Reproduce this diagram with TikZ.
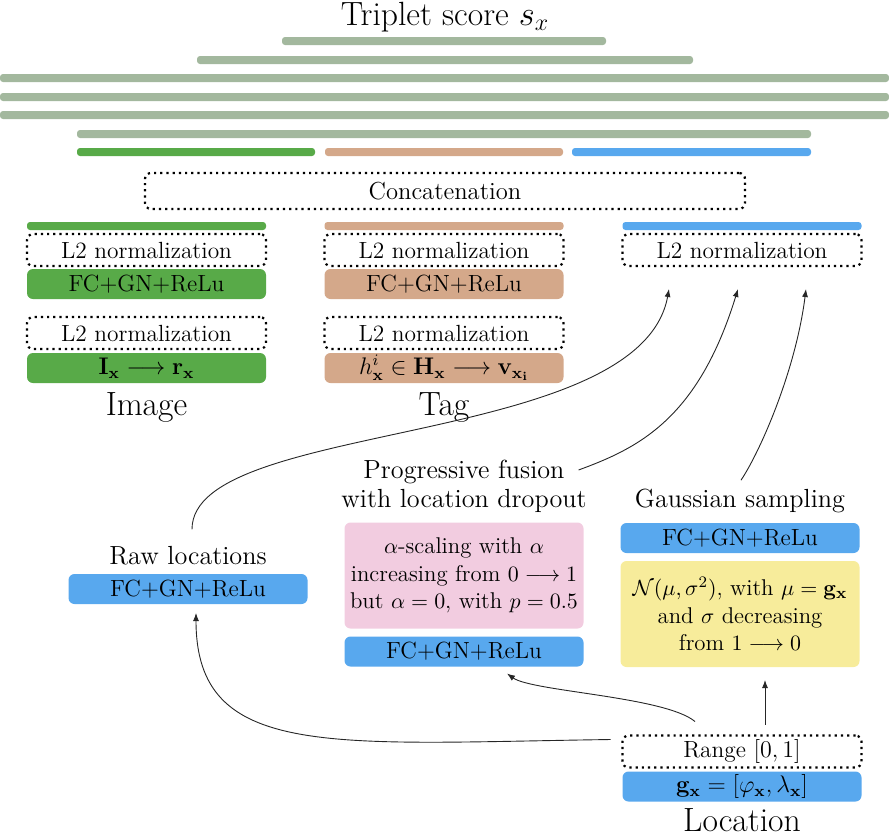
\documentclass[tikz,border=0pt]{standalone}
\usepackage{amsmath,amssymb}
\usepackage{tikz}
\usetikzlibrary{arrows.meta,positioning,calc}
\definecolor{trImg}{HTML}{58AA48}
\definecolor{trTag}{HTML}{D4A88A}
\definecolor{trLoc}{HTML}{58A8EE}
\definecolor{trScore}{HTML}{A3B89E}
\definecolor{trPink}{HTML}{F2CCE0}
\definecolor{trYellow}{HTML}{F7EC9B}
\newcommand{\trBody}{\fontsize{11.7}{13.8}\selectfont}
\newcommand{\trNote}{\fontsize{11.4}{13.8}\selectfont}
\newcommand{\trMid}{\fontsize{13.1}{14.5}\selectfont}
\newcommand{\trBig}{\fontsize{16.8}{19}\selectfont}
\tikzset{
  trbar/.style={fill=trScore,rounded corners=1.5pt,inner sep=0pt,outer sep=0pt,minimum height=4pt},
  trdot/.style={draw=black,dotted,line width=1.1pt,rounded corners=3pt,inner sep=0pt,outer sep=0pt,
                minimum width=119.5pt,minimum height=16pt,font=\trBody},
  trlayer/.style={rounded corners=3pt,inner sep=0pt,outer sep=0pt,minimum width=119.5pt,minimum height=15pt,font=\trBody},
  trimg/.style={trlayer,fill=trImg},
  trtag/.style={trlayer,fill=trTag},
  trloc/.style={trlayer,fill=trLoc},
  trnote/.style={trlayer,align=center,minimum height=53pt,font=\trNote},
  trlbl/.style={inner sep=0pt,outer sep=0pt,font=\trBig},
  trcap/.style={inner sep=0pt,outer sep=0pt,font=\trMid,align=center},
  trflow/.style={-{Latex[length=4pt,width=3pt]},line width=0.45pt,draw=black!85},
}

\begin{document}
\begin{tikzpicture}[x=0.5pt,y=-0.5pt,node distance=2pt]
  \useasboundingbox (0,0) rectangle (889,832);

  % score head
  \node[trlbl,anchor=base] (score) at (445,25) {Triplet score $s_x$};
  \node[trbar,minimum width=162pt] (s1) at (444,41) {};
  \node[trbar,minimum width=248pt] (s2) at (445,60) {};
  \node[trbar,minimum width=444.5pt] (s3) at (444.5,78) {};
  \node[trbar,minimum width=444.5pt] (s4) at (444.5,97) {};
  \node[trbar,minimum width=444.5pt] (s5) at (444.5,115) {};
  \node[trbar,minimum width=367pt] (s6) at (444,134) {};
  \node[trbar,fill=trImg,minimum width=119pt] (hi) at (196,152) {};
  \node[trbar,fill=trTag,minimum width=119pt] (ht) at (444,152) {};
  \node[trbar,fill=trLoc,minimum width=119.5pt] (hl) at (691.5,152) {};
  \node[trdot,minimum width=300pt,minimum height=18pt,font=\fontsize{12.3}{14}\selectfont] (concat) at (445,191) {Concatenation};

  % image branch
  \node[trbar,fill=trImg,minimum width=119.5pt] (ibar) at (146.5,226) {};
  \node[trdot,below=of ibar] (il2a) {L2 normalization};
  \node[trimg,below=1.5pt of il2a] (ifc) {FC+GN+ReLu};
  \node[trdot,below=9pt of ifc] (il2b) {L2 normalization};
  \node[trimg,below=of il2b] (iin) {$\mathbf{I}_\mathbf{x} \longrightarrow \mathbf{r}_\mathbf{x}$};
  \node[trlbl,below=5pt of iin] (ilbl) {Image};

  % tag branch
  \node[trbar,fill=trTag,minimum width=119.5pt] (tbar) at (444,226) {};
  \node[trdot,below=of tbar] (tl2a) {L2 normalization};
  \node[trtag,below=1.5pt of tl2a] (tfc) {FC+GN+ReLu};
  \node[trdot,below=9pt of tfc] (tl2b) {L2 normalization};
  \node[trtag,below=of tl2b] (tin) {$h^i_\mathbf{x} \in \mathbf{H}_\mathbf{x} \longrightarrow \mathbf{v}_{\mathbf{x}_\mathbf{i}}$};
  \node[trlbl,below=5pt of tin] (tlbl) {Tag};

  % location branch
  \node[trbar,fill=trLoc,minimum width=119.5pt] (lbar) at (742,226) {};
  \node[trdot,below=of lbar] (ll2) {L2 normalization};

  \node[trloc] (rfc) at (188,589) {FC+GN+ReLu};
  \node[trcap,above=4.5pt of rfc] (rawlbl) {Raw locations};

  \node[trloc] (pfc) at (464,651.5) {FC+GN+ReLu};
  \node[trnote,fill=trPink,above=4pt of pfc] (pk) {$\alpha$-scaling with $\alpha$\\increasing from $0 \longrightarrow 1$\\but $\alpha=0$, with $p=0.5$};
  \node[trcap,above=5pt of pk] (proglbl) {Progressive fusion\\with location dropout};

  \node[trloc] (gfc) at (740,538) {FC+GN+ReLu};
  \node[trnote,fill=trYellow,below=4pt of gfc] (gy) {$\mathcal{N}(\mu,\sigma^2)$, with $\mu=\mathbf{g}_\mathbf{x}$\\and $\sigma$ decreasing\\from $1 \longrightarrow 0$};
  \node[trcap,above=5pt of gfc] (glbl) {Gaussian sampling};

  \node[trloc] (gx) at (742,786.5) {$\mathbf{g}_\mathbf{x} = [\varphi_\mathbf{x}, \lambda_\mathbf{x}]$};
  \node[trdot,above=of gx] (rng) {Range $[0,1]$};
  \node[trlbl,below=3.5pt of gx] (loclbl) {Location};

  % into the location L2 normalization
  \draw[trflow] ($(rawlbl.north)+(4,-17)$) .. controls +(0,-110) and +(-29,160) .. ($(ll2.south)+(-73,23)$);
  \draw[trflow] ($(proglbl.north east)+(-8,10)$) .. controls +(60,-22) and +(-40,130) .. ($(ll2.south)+(-4,23)$);
  \draw[trflow] ($(glbl.north)+(1,-9)$) .. controls +(20,-30) and +(-10,80) .. ($(ll2.south)+(64,23)$);

  % from the location input
  \draw[trflow] ($(rng.north)+(-47,-14)$) .. controls +(-30,-25) and +(25,18) .. ($(pfc.south)+(43,7)$);
  \draw[trflow] ($(rng.north)+(23,-11)$) -- ($(gy.south)+(25,13)$);
  \draw[trflow] ($(rng.north west)+(-12,4)$) .. controls +(-280,4) and +(0,147) .. ($(rfc.south)+(8,9)$);
\end{tikzpicture}
\end{document}
